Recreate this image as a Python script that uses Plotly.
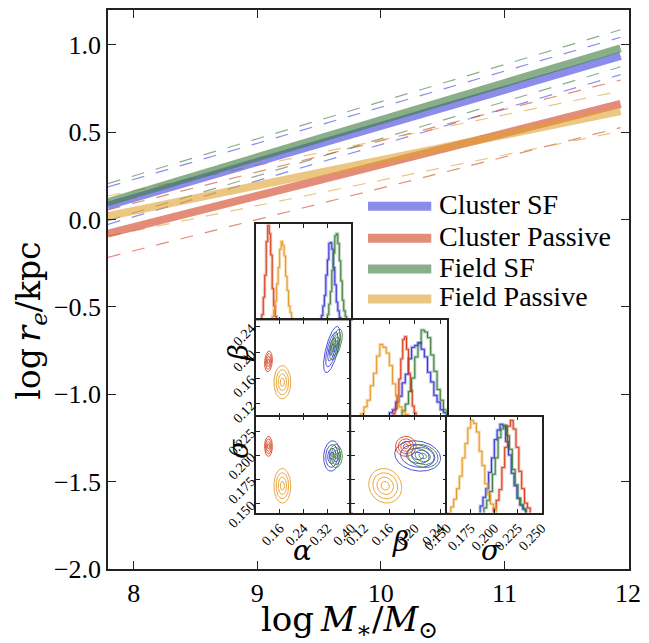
import numpy as np
import plotly.graph_objects as go

# ---------------- size relation: log r_e vs log M* ----------------
series = ["Cluster SF", "Cluster Passive", "Field SF", "Field Passive"]
log_mass_ends = [7.79, 11.94]
fit_at_low_mass = [0.08, -0.08, 0.10, 0.02]
fit_at_high_mass = [0.937, 0.663, 0.981, 0.621]
scatter_halfwidth = [0.107, 0.136, 0.106, 0.115]

# ---------------- posterior summaries (alpha, beta, sigma) ----------------
post_mean = {
    "Cluster SF":      [0.335, 0.2045, 0.1995],
    "Cluster Passive": [0.1225, 0.186, 0.2095],
    "Field SF":        [0.3485, 0.2125, 0.1995],
    "Field Passive":   [0.169, 0.1535, 0.1685],
}
post_sd = {
    "Cluster SF":      [0.0138, 0.018, 0.0079],
    "Cluster Passive": [0.0066, 0.0081, 0.0052],
    "Field SF":        [0.0108, 0.012, 0.006],
    "Field Passive":   [0.0141, 0.013, 0.009],
}
# correlations: (alpha-beta, alpha-sigma, beta-sigma)
post_rho = {
    "Cluster SF":      [0.65, 0.1, -0.15],
    "Cluster Passive": [0.2, 0.0, 0.0],
    "Field SF":        [0.6, 0.0, -0.2],
    "Field Passive":   [0.0, 0.0, -0.1],
}

# marginal histograms: (first bin edge, bin width, heights)
hist_alpha = {
    "Cluster SF":      (0.300, 0.005, [0.05, 0.15, 0.26, 0.47, 0.63, 0.80, 0.81, 0.74, 0.55, 0.37, 0.19, 0.10, 0.03]),
    "Cluster Passive": (0.100, 0.005, [0.06, 0.24, 0.47, 0.82, 0.99, 0.90, 0.68, 0.33, 0.15, 0.04]),
    "Field SF":        (0.320, 0.005, [0.06, 0.17, 0.30, 0.52, 0.70, 0.88, 0.90, 0.80, 0.62, 0.41, 0.21, 0.10, 0.04]),
    "Field Passive":   (0.135, 0.005, [0.04, 0.11, 0.20, 0.38, 0.55, 0.74, 0.82, 0.78, 0.67, 0.46, 0.31, 0.15, 0.08, 0.02]),
}
hist_beta = {
    "Cluster SF":      (0.160, 0.005, [0.04, 0.07, 0.15, 0.21, 0.35, 0.44, 0.60, 0.72, 0.74, 0.77, 0.70, 0.62, 0.46, 0.36, 0.22, 0.15, 0.07, 0.04]),
    "Cluster Passive": (0.166, 0.003, [0.03, 0.08, 0.22, 0.39, 0.60, 0.80, 0.83, 0.70, 0.45, 0.27, 0.11, 0.04]),
    "Field SF":        (0.180, 0.005, [0.06, 0.13, 0.26, 0.40, 0.62, 0.76, 0.90, 0.88, 0.82, 0.64, 0.47, 0.28, 0.17, 0.07]),
    "Field Passive":   (0.115, 0.005, [0.03, 0.10, 0.17, 0.32, 0.45, 0.63, 0.75, 0.72, 0.66, 0.53, 0.34, 0.22, 0.10, 0.05, 0.02]),
}
hist_sigma = {
    "Cluster SF":      (0.185, 0.003, [0.07, 0.16, 0.25, 0.42, 0.57, 0.76, 0.86, 0.92, 0.90, 0.74, 0.60, 0.41, 0.28, 0.15, 0.08, 0.04]),
    "Cluster Passive": (0.199, 0.003, [0.04, 0.13, 0.24, 0.47, 0.68, 0.90, 0.96, 0.87, 0.68, 0.43, 0.25, 0.10, 0.05]),
    "Field SF":        (0.189, 0.003, [0.05, 0.13, 0.22, 0.40, 0.57, 0.78, 0.87, 0.91, 0.80, 0.66, 0.45, 0.29, 0.15, 0.08, 0.03]),
    "Field Passive":   (0.154, 0.003, [0.06, 0.14, 0.25, 0.38, 0.57, 0.72, 0.88, 0.96, 0.93, 0.84, 0.64, 0.49, 0.30, 0.19, 0.09, 0.05]),
}

main_x_ticks = [8, 9, 10, 11, 12]
main_y_ticks = [-2.0, -1.5, -1.0, -0.5, 0.0, 0.5, 1.0]
alpha_range, alpha_ticks = [0.08, 0.40], [0.16, 0.24, 0.32, 0.40]
beta_range, beta_ticks = [0.10, 0.25], [0.12, 0.16, 0.20, 0.24]
sigma_range, sigma_ticks = [0.1405, 0.2405], [0.150, 0.175, 0.200, 0.225]
sigma_hist_range, sigma_hist_ticks = [0.1495, 0.2505], [0.150, 0.175, 0.200, 0.225, 0.250]
contour_levels = [0.5, 1.0, 1.5, 2.0]

# ---------------- styling ----------------
band_color = {
    "Cluster SF": "rgba(64,64,221,0.6)",
    "Cluster Passive": "rgba(208,64,32,0.6)",
    "Field SF": "rgba(58,122,58,0.6)",
    "Field Passive": "rgba(224,160,48,0.6)",
}
ink = {
    "Cluster SF": "rgb(50,50,215)",
    "Cluster Passive": "rgb(212,58,22)",
    "Field SF": "rgb(58,125,58)",
    "Field Passive": "rgb(230,152,32)",
}
soft = {
    "Cluster SF": "rgba(50,50,215,0.35)",
    "Cluster Passive": "rgba(212,58,22,0.35)",
    "Field SF": "rgba(58,125,58,0.35)",
    "Field Passive": "rgba(230,152,32,0.35)",
}
FONT = "Liberation Serif"
MATH_FONT = "DejaVu Serif"
W, H = 649, 643
ML, MR, MT, MB = 108, 14, 8, 74
PW, PH = W - ML - MR, H - MT - MB


def px_x(px):
    return (px - ML) / PW


def px_y(py):
    return (H - MB - py) / PH


fig = go.Figure()

# dashed scatter envelopes
for i, s in enumerate(series):
    for sign in (1, -1):
        fig.add_trace(go.Scatter(
            x=log_mass_ends,
            y=[fit_at_low_mass[i] + sign * scatter_halfwidth[i],
               fit_at_high_mass[i] + sign * scatter_halfwidth[i]],
            mode="lines", line=dict(color=band_color[s], width=1.2, dash="13px,12px"),
            showlegend=False, hoverinfo="skip"))

# best-fit relations
for i, s in enumerate(series):
    fig.add_trace(go.Scatter(
        x=log_mass_ends, y=[fit_at_low_mass[i], fit_at_high_mass[i]],
        mode="lines", line=dict(color=band_color[s], width=8),
        name=s, showlegend=False))

# ---------------- corner inset ----------------
col_px = [257.5, 354.0, 450.5, 547.0]
row_px = [223.0, 319.5, 416.0, 512.5]


def dom_x(c):
    return [px_x(col_px[c]), px_x(col_px[c + 1])]


def dom_y(r):
    return [px_y(row_px[r + 1]), px_y(row_px[r])]


# (column, row, x-range, x-ticks, x format, show x labels, y-range, y-ticks, y format, show y labels)
panels = {
    2: (0, 0, alpha_range, alpha_ticks, ".2f", False, [0, 1.0], [], "", False),
    3: (0, 1, alpha_range, alpha_ticks, ".2f", False, beta_range, beta_ticks, ".2f", True),
    4: (1, 1, beta_range, beta_ticks, ".2f", False, [0, 1.0], [], "", False),
    5: (0, 2, alpha_range, alpha_ticks, ".2f", True, sigma_range, sigma_ticks, ".3f", True),
    6: (1, 2, beta_range, beta_ticks, ".2f", True, sigma_range, sigma_ticks, ".3f", False),
    7: (2, 2, sigma_hist_range, sigma_hist_ticks, ".3f", True, [0, 1.0], [], "", False),
}

axis_common = dict(showline=True, mirror="ticks", linecolor="#222", linewidth=1.5,
                   ticks="inside", ticklen=4, tickwidth=1, tickcolor="#222",
                   showgrid=False, zeroline=False,
                   tickfont=dict(family=FONT, size=14, color="black"))
layout_axes = {}
for k, (c, r, xr, xt, xf, xl, yr, yt, yf, yl) in panels.items():
    layout_axes[f"xaxis{k}"] = dict(axis_common, domain=dom_x(c), anchor=f"y{k}", range=xr,
                                    tickvals=xt, tickformat=xf, showticklabels=xl, tickangle=-45)
    layout_axes[f"yaxis{k}"] = dict(axis_common, domain=dom_y(r), anchor=f"x{k}", range=yr,
                                    tickvals=yt, tickformat=yf, showticklabels=yl, tickangle=-45)


def step_outline(spec):
    start, width, heights = spec
    xs, ys = [start], [0.0]
    for j, h in enumerate(heights):
        xs += [start + j * width, start + (j + 1) * width]
        ys += [h, h]
    xs.append(start + len(heights) * width)
    ys.append(0.0)
    return xs, ys


def add_hist(spec, s, k):
    xs, ys = step_outline(spec)
    fig.add_trace(go.Scatter(x=xs, y=ys, mode="lines", line=dict(color=soft[s], width=3),
                             xaxis=f"x{k}", yaxis=f"y{k}", showlegend=False, hoverinfo="skip"))
    fig.add_trace(go.Scatter(x=xs, y=ys, mode="lines", line=dict(color=ink[s], width=1),
                             xaxis=f"x{k}", yaxis=f"y{k}", showlegend=False, hoverinfo="skip"))


def add_contours(s, ia, ib, irho, k):
    mx, my = post_mean[s][ia], post_mean[s][ib]
    sx, sy = post_sd[s][ia], post_sd[s][ib]
    rho = post_rho[s][irho]
    t = np.linspace(0, 2 * np.pi, 120)
    for n in contour_levels:
        x = mx + n * sx * np.cos(t)
        y = my + n * sy * (rho * np.cos(t) + np.sqrt(1 - rho ** 2) * np.sin(t))
        fig.add_trace(go.Scatter(x=x, y=y, mode="lines", line=dict(color=ink[s], width=1),
                                 opacity=0.85, xaxis=f"x{k}", yaxis=f"y{k}",
                                 showlegend=False, hoverinfo="skip"))


for s in series:
    add_hist(hist_alpha[s], s, 2)
    add_hist(hist_beta[s], s, 4)
    add_hist(hist_sigma[s], s, 7)
    add_contours(s, 0, 1, 0, 3)
    add_contours(s, 0, 2, 1, 5)
    add_contours(s, 1, 2, 2, 6)

annotations = []
greek_font = dict(family=MATH_FONT, size=28, color="black")
for txt, px, py in [("<i>α</i>", 305, 550), ("<i>β</i>", 404, 541), ("<i>σ</i>", 495, 550)]:
    annotations.append(dict(text=txt, x=px_x(px), y=px_y(py), xref="paper", yref="paper",
                            showarrow=False, font=greek_font, xanchor="center", yanchor="middle"))
for txt, px, py in [("<i>β</i>", 240, 352), ("<i>σ</i>", 240, 448)]:
    annotations.append(dict(text=txt, x=px_x(px), y=px_y(py), xref="paper", yref="paper",
                            showarrow=False, font=greek_font, xanchor="center", yanchor="middle",
                            textangle=-90))

# axis titles
annotations.append(dict(text="log\u2009<i>M</i><sub>\u2217</sub>/<i>M</i><sub>⊙</sub>",
                        x=px_x(352), y=px_y(622), xref="paper", yref="paper", showarrow=False,
                        xanchor="center", yanchor="middle", font=dict(family=MATH_FONT, size=34)))
annotations.append(dict(text="log\u2009<i>r</i><sub><i>e</i></sub>/kpc",
                        x=px_x(30), y=px_y(320), xref="paper", yref="paper", showarrow=False,
                        xanchor="center", yanchor="middle", textangle=-90,
                        font=dict(family=MATH_FONT, size=33)))

# legend drawn as thick swatches with labels
shapes = []
legend_rows = [205, 237, 268, 298]
for s, py in zip(series, legend_rows):
    shapes.append(dict(type="line", xref="paper", yref="paper",
                       x0=px_x(371), x1=px_x(435), y0=px_y(py), y1=px_y(py),
                       line=dict(color=band_color[s], width=9)))
    annotations.append(dict(text=s, x=px_x(441), y=px_y(py - 2), xref="paper", yref="paper",
                            showarrow=False, xanchor="left", yanchor="middle",
                            font=dict(family=FONT, size=28, color="black")))

fig.update_layout(
    width=W, height=H,
    margin=dict(l=ML, r=MR, t=MT, b=MB),
    paper_bgcolor="white", plot_bgcolor="white",
    showlegend=False,
    font=dict(family=FONT, color="black"),
    xaxis=dict(range=[7.792, 12.008], tickvals=main_x_ticks, ticktext=[str(v) for v in main_x_ticks],
               showline=True, mirror="ticks", linecolor="#222", linewidth=1.5,
               ticks="inside", ticklen=8, tickwidth=1.2, tickcolor="#222",
               showgrid=False, zeroline=False,
               tickfont=dict(family=FONT, size=26)),
    yaxis=dict(range=[-2.0, 1.2], tickvals=main_y_ticks, tickformat=".1f",
               showline=True, mirror="ticks", linecolor="#222", linewidth=1.5,
               ticks="inside", ticklen=8, tickwidth=1.2, tickcolor="#222",
               showgrid=False, zeroline=False,
               tickfont=dict(family=FONT, size=26)),
    annotations=annotations,
    shapes=shapes,
    **layout_axes,
)

fig.write_html("out.html")
